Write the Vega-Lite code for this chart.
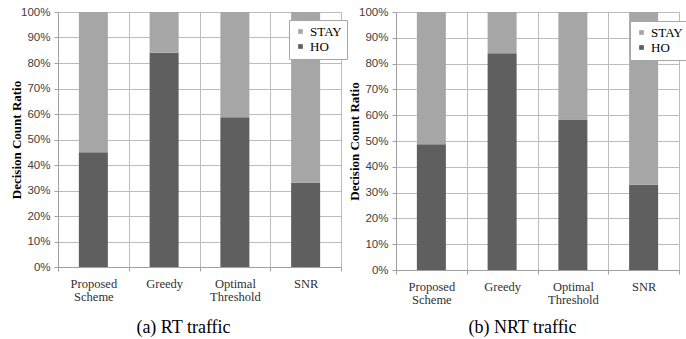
{
  "$schema": "https://vega.github.io/schema/vega-lite/v6.json",
  "background": "white",
  "padding": {"left": 10, "top": 5, "right": 11, "bottom": 0},
  "data": {
    "values": [
      {"traffic": "RT", "method": "Proposed Scheme", "decision": "HO", "ratio": 0.45},
      {"traffic": "RT", "method": "Proposed Scheme", "decision": "STAY", "ratio": 0.55},
      {"traffic": "RT", "method": "Greedy", "decision": "HO", "ratio": 0.84},
      {"traffic": "RT", "method": "Greedy", "decision": "STAY", "ratio": 0.16},
      {"traffic": "RT", "method": "Optimal Threshold", "decision": "HO", "ratio": 0.587},
      {"traffic": "RT", "method": "Optimal Threshold", "decision": "STAY", "ratio": 0.413},
      {"traffic": "RT", "method": "SNR", "decision": "HO", "ratio": 0.33},
      {"traffic": "RT", "method": "SNR", "decision": "STAY", "ratio": 0.67},
      {"traffic": "NRT", "method": "Proposed Scheme", "decision": "HO", "ratio": 0.487},
      {"traffic": "NRT", "method": "Proposed Scheme", "decision": "STAY", "ratio": 0.513},
      {"traffic": "NRT", "method": "Greedy", "decision": "HO", "ratio": 0.84},
      {"traffic": "NRT", "method": "Greedy", "decision": "STAY", "ratio": 0.16},
      {"traffic": "NRT", "method": "Optimal Threshold", "decision": "HO", "ratio": 0.583},
      {"traffic": "NRT", "method": "Optimal Threshold", "decision": "STAY", "ratio": 0.417},
      {"traffic": "NRT", "method": "SNR", "decision": "HO", "ratio": 0.33},
      {"traffic": "NRT", "method": "SNR", "decision": "STAY", "ratio": 0.67}
    ]
  },
  "spacing": 0,
  "resolve": {"legend": {"color": "independent"}},
  "hconcat": [
    {
      "width": 283,
      "height": 255,
      "title": {"text": "(a) RT traffic", "orient": "bottom", "anchor": "middle", "frame": "group", "dx": -16, "offset": 16},
      "transform": [{"filter": "datum.traffic == 'RT'"}],
      "mark": {"type": "bar", "width": {"band": 0.41}},
      "encoding": {
        "x": {
          "field": "method", "type": "nominal",
          "sort": ["Proposed Scheme", "Greedy", "Optimal Threshold", "SNR"],
          "scale": {"padding": 0},
          "axis": {"title": null, "labelExpr": "split(datum.label, ' ')", "tickBand": "extent", "grid": true}
        },
        "y": {
          "field": "ratio", "type": "quantitative", "stack": "zero",
          "scale": {"domain": [0, 1]},
          "axis": {"title": "Decision Count Ratio", "values": [0, 0.1, 0.2, 0.3, 0.4, 0.5, 0.6, 0.7, 0.8, 0.9, 1], "format": ".0%", "labelOverlap": false}
        },
        "color": {
          "field": "decision",
          "type": "nominal",
          "scale": {"domain": ["STAY", "HO"], "range": ["#a6a6a6", "#5f5f5f"]},
          "legend": {"orient": "none", "legendX": 231, "legendY": 8, "title": null}
        },
        "order": {"field": "decision", "sort": "ascending"}
      }
    },
    {
      "width": 283,
      "height": 258,
      "title": {"text": "(b) NRT traffic", "orient": "bottom", "anchor": "middle", "frame": "group", "dx": -15, "offset": 13},
      "transform": [{"filter": "datum.traffic == 'NRT'"}],
      "mark": {"type": "bar", "width": {"band": 0.41}},
      "encoding": {
        "x": {
          "field": "method", "type": "nominal",
          "sort": ["Proposed Scheme", "Greedy", "Optimal Threshold", "SNR"],
          "scale": {"padding": 0},
          "axis": {"title": null, "labelExpr": "split(datum.label, ' ')", "tickBand": "extent", "grid": true}
        },
        "y": {
          "field": "ratio", "type": "quantitative", "stack": "zero",
          "scale": {"domain": [0, 1]},
          "axis": {"title": "Decision Count Ratio", "values": [0, 0.1, 0.2, 0.3, 0.4, 0.5, 0.6, 0.7, 0.8, 0.9, 1], "format": ".0%", "labelOverlap": false}
        },
        "color": {
          "field": "decision",
          "type": "nominal",
          "scale": {"domain": ["STAY", "HO"], "range": ["#a6a6a6", "#5f5f5f"]},
          "legend": {"orient": "none", "legendX": 234, "legendY": 9, "title": null}
        },
        "order": {"field": "decision", "sort": "ascending"}
      }
    }
  ],
  "config": {
    "view": {"stroke": "#bcbcbc", "strokeWidth": 1},
    "title": {"font": "Liberation Serif, Times New Roman, serif", "fontSize": 18, "fontWeight": "normal", "color": "#000000"},
    "axisX": {
      "labelAngle": 0,
      "labelFont": "Liberation Serif, Times New Roman, serif",
      "labelFontSize": 12.5,
      "labelColor": "#303030",
      "labelLineHeight": 13.5,
      "labelPadding": 6,
      "tickSize": 4,
      "tickColor": "#a0a0a0",
      "domainColor": "#a0a0a0",
      "gridColor": "#bcbcbc"
    },
    "axisY": {
      "titleFont": "Liberation Serif, Times New Roman, serif",
      "titleFontSize": 13,
      "titleFontWeight": "bold",
      "titleColor": "#000000",
      "titlePadding": -3,
      "labelFont": "Liberation Sans, Arial, sans-serif",
      "labelFontSize": 11.5,
      "labelColor": "#404040",
      "labelPadding": 4,
      "tickSize": 4,
      "tickColor": "#a0a0a0",
      "domainColor": "#a0a0a0",
      "gridColor": "#bcbcbc"
    },
    "legend": {
      "fillColor": "#ffffff",
      "strokeColor": "#a6a6a6",
      "padding": 5,
      "symbolType": "square",
      "symbolSize": 22,
      "symbolStrokeWidth": 0,
      "labelOffset": 3,
      "labelFont": "Liberation Serif, Times New Roman, serif",
      "labelFontSize": 13,
      "labelColor": "#000000",
      "rowPadding": 1
    }
  }
}
